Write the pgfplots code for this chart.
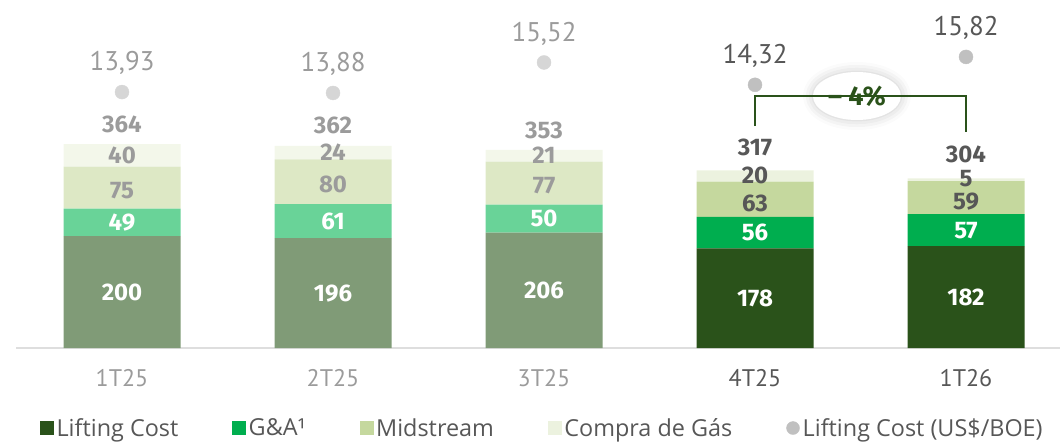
\documentclass[border=0pt]{standalone}
\usepackage{pgfplots}
\pgfplotsset{compat=1.18}
\usepackage{pgfplotstable}
\usepackage{fontspec}
\setmainfont{PT Sans}
\newfontfamily\numfont{Fira Sans}
\newfontfamily\legfont{Open Sans}
\usetikzlibrary{shadows.blur, shapes.geometric}
\definecolor{lcF}{HTML}{809B77}
\definecolor{gaF}{HTML}{69D398}
\definecolor{msF}{HTML}{DDE8C5}
\definecolor{cgF}{HTML}{F3F7EA}
\definecolor{lcD}{HTML}{2A521A}
\definecolor{gaD}{HTML}{00AE4F}
\definecolor{msD}{HTML}{C5D89E}
\definecolor{cgD}{HTML}{ECF2DF}
\definecolor{txtF}{HTML}{9B9B9B}
\definecolor{txtD}{HTML}{575757}
\definecolor{dotF}{HTML}{D6D6D6}
\definecolor{dotD}{HTML}{C0C0C0}

\pgfplotstableread{
x lc ga ms cg tot
0 200 49 75 40 364
1 196 61 80 24 362
2 206 50 77 21 353
}\faded
\pgfplotstableread{
x lc ga ms cg tot
3 178 56 63 20 317
4 182 57 59 5 304
}\full
\pgfplotstableread{
x v
0 13.93
1 13.88
2 15.52
}\dotsF
\pgfplotstableread{
x v
3 14.32
4 15.82
}\dotsD

\pgfplotsset{
  /pgf/number format/assume math mode=true,
  base/.style={x=211pt, xmin=-0.5, xmax=4.4455, at={(16.5pt,94pt)}, anchor=south west, clip=false},
  yb/.style={y=0.56pt, ymin=0, ymax=621.43},
  barax/.style={base, yb, ybar stacked, bar width=117pt},
  seg/.style={forget plot, draw=none, fill=#1, point meta=explicit, nodes near coords,
    every node near coord/.append style={anchor=center, inner sep=1pt,
      font=\numfont\fontsize{24}{28}\selectfont\bfseries}},
}

\begin{document}
\begin{tikzpicture}
\useasboundingbox (0,0) rectangle (1060pt,442pt);
% faded bars + axis line
\begin{axis}[barax,
  axis x line*=bottom, axis y line=none,
  x axis line style={draw=black!13, line width=1.5pt, -},
  xtick={0,1,2,3,4}, major tick length=0pt,
  xticklabels={{\color{txtF}1T25},{\color{txtF}2T25},{\color{txtF}3T25},{\color{txtD}4T25},{\color{txtD}1T26}},
  xticklabel style={anchor=center, yshift=-30pt, font=\fontsize{24}{28}\selectfont},
]
\addplot[seg=lcF, every node near coord/.append style={text=white}] table[x=x, y=lc, meta=lc] {\faded};
\addplot[seg=gaF, every node near coord/.append style={text=white}] table[x=x, y=ga, meta=ga] {\faded};
\addplot[seg=msF, every node near coord/.append style={text=txtF, yshift=-3pt}] table[x=x, y=ms, meta=ms] {\faded};
\addplot[seg=cgF, every node near coord/.append style={text=txtF}] table[x=x, y=cg, meta=cg] {\faded};
\end{axis}
% full bars
\begin{axis}[barax, hide axis,
  legend columns=5,
  legend style={at={(0.0225,-0.2300)}, anchor=west, draw=none, fill=none, inner sep=0pt,
    font=\legfont\fontsize{23.4}{28}\selectfont, text=txtD,
    /tikz/every even column/.append style={column sep=51pt},
    nodes={inner sep=3pt}},
]
\addplot[seg=lcD, every node near coord/.append style={text=white}] table[x=x, y=lc, meta=lc] {\full};
\addplot[seg=gaD, every node near coord/.append style={text=white}] table[x=x, y=ga, meta=ga] {\full};
\addplot[seg=msD, every node near coord/.append style={text=txtD, yshift=-4pt}] table[x=x, y=ms, meta=ms] {\full};
\addplot[seg=cgD, every node near coord/.append style={text=txtD, yshift=1pt}] table[x=x, y=cg, meta=cg] {\full};
\addlegendimage{legend image code/.code={\fill[lcD] (0pt,-6.5pt) rectangle (13pt,6.5pt);}}
\addlegendimage{legend image code/.code={\fill[gaD] (0pt,-6.5pt) rectangle (13pt,6.5pt);}}
\addlegendimage{legend image code/.code={\fill[msD] (0pt,-6.5pt) rectangle (13pt,6.5pt);}}
\addlegendimage{legend image code/.code={\fill[cgD] (0pt,-6.5pt) rectangle (13pt,6.5pt);}}
\addlegendimage{legend image code/.code={\fill[dotD] (6.5pt,0pt) circle (6.5pt);}}
\legend{Lifting Cost, G\&A¹, Midstream, Compra de Gás, Lifting Cost (US\$/BOE)}
\draw[lcD, line width=2pt] (axis cs:3,396) |- (axis cs:4,450) -- (axis cs:4,386);
\node[ellipse, fill=white, minimum width=88pt, minimum height=48pt, inner sep=0pt,
  blur shadow={shadow xshift=0pt, shadow yshift=0pt, shadow blur radius=10pt, shadow opacity=22},
  text=lcD, font=\numfont\fontsize{27}{30}\selectfont\bfseries] at (axis cs:3.483,450) {– 4\%};
\end{axis}
% totals
\begin{axis}[base, yb, hide axis, point meta=explicit, nodes near coords,
  every node near coord/.append style={anchor=center, inner sep=1pt, font=\numfont\fontsize{24}{28}\selectfont\bfseries}]
\addplot[draw=none, every node near coord/.append style={yshift=20pt, text=txtF}] table[x=x, y=tot, meta=tot] {\faded};
\addplot[draw=none, every node near coord/.append style={yshift=23pt, text=txtD}] table[x=x, y=tot, meta=tot] {\full};
\end{axis}
% dots
\begin{axis}[base, hide axis, y=18.6pt, ymin=0.17, ymax=18.88,
  nodes near coords={\pgfmathprintnumber[fixed, fixed zerofill, precision=2, use comma]{\pgfplotspointmeta}},
  point meta=explicit]
\addplot[only marks, mark=*, mark size=7pt, color=dotF,
  every node near coord/.append style={anchor=center, yshift=29pt, text=txtF, font=\fontsize{27}{30}\selectfont}]
  table[x=x, y=v, meta=v] {\dotsF};
\addplot[only marks, mark=*, mark size=7pt, color=dotD,
  every node near coord/.append style={anchor=center, yshift=29pt, text=txtD, font=\fontsize{27}{30}\selectfont}]
  table[x=x, y=v, meta=v] {\dotsD};
\end{axis}
\end{tikzpicture}
\end{document}
